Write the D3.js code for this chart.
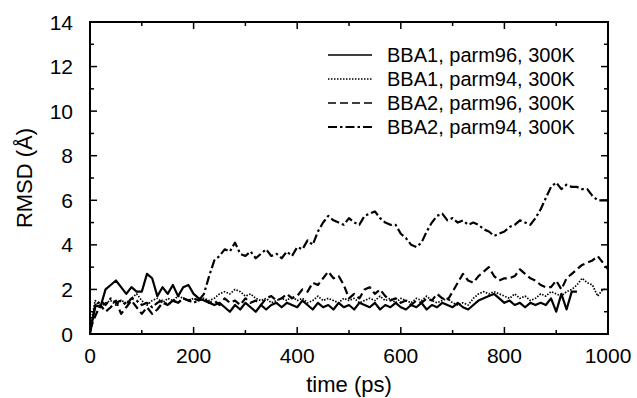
<!DOCTYPE html>
<html><head><meta charset="utf-8">
<script src="https://cdn.jsdelivr.net/npm/d3@7"></script>
<style>body{margin:0;background:#fff}svg{display:block}text{font-family:"Liberation Sans",Arial,sans-serif;fill:#000}</style>
</head><body>
<svg id="c" width="637" height="398"></svg>
<script>
const time = [0,10,20,30,40,50,60,70,80,90,100,110,120,130,140,150,160,170,180,190,200,210,220,230,240,250,260,270,280,290,300,310,320,330,340,350,360,370,380,390,400,410,420,430,440,450,460,470,480,490,500,510,520,530,540,550,560,570,580,590,600,610,620,630,640,650,660,670,680,690,700,710,720,730,740,750,760,770,780,790,800,810,820,830,840,850,860,870,880,890,900,910,920,930,940,950,960,970,980,990,1000];
const bba1p96 = [0.0,1.3,1.2,2.0,2.2,2.4,2.1,1.8,2.1,1.9,1.9,2.7,2.5,1.7,2.1,1.8,2.2,1.7,2.1,2.2,1.8,1.6,1.5,1.4,1.3,1.4,1.2,1.0,1.3,1.1,1.4,1.2,1.0,1.3,1.1,1.3,1.4,1.2,1.4,1.3,1.2,1.5,1.3,1.1,1.4,1.2,1.3,1.1,1.4,1.2,1.3,1.1,1.4,1.3,1.2,1.4,1.1,1.3,1.2,1.4,1.2,1.1,1.3,1.2,1.4,1.1,1.3,1.2,1.4,1.3,1.2,1.4,1.2,1.1,1.3,1.5,1.6,1.7,1.8,1.6,1.4,1.5,1.3,1.4,1.2,1.4,1.3,1.4,1.3,1.6,1.0,1.8,1.1,1.9,1.9];
const bba1p94 = [0.3,1.5,1.2,1.4,1.5,1.3,1.5,1.4,1.6,1.8,1.5,1.3,1.5,1.6,1.4,1.6,1.5,1.7,1.6,1.5,1.6,1.5,1.6,1.5,1.6,1.8,1.9,1.8,2.0,1.9,1.7,1.8,1.6,1.5,1.6,1.4,1.5,1.6,1.5,1.7,1.5,1.6,1.4,1.5,1.7,1.5,1.6,1.5,1.4,1.6,1.5,1.6,1.4,1.5,1.6,1.5,1.7,1.5,1.6,1.4,1.6,1.5,1.4,1.6,1.5,1.7,1.5,1.4,1.5,1.6,1.4,1.3,1.4,1.3,1.6,1.8,1.9,1.8,1.9,1.8,1.7,1.6,1.8,1.6,1.7,1.5,1.6,1.8,1.7,1.9,1.8,1.7,1.9,2.0,2.2,2.5,2.3,2.2,1.7,2.0,2.0];
const bba2p96 = [0.2,0.8,1.3,1.0,1.2,1.5,0.9,1.2,1.5,1.2,0.9,1.2,0.9,1.1,1.4,1.3,1.5,1.4,1.6,1.5,1.6,1.5,1.6,1.4,1.5,1.3,1.6,1.4,1.5,1.3,1.6,1.4,1.5,1.3,1.6,1.7,1.5,1.6,1.8,1.6,1.7,2.0,1.9,2.3,2.2,2.5,2.8,2.5,2.6,2.2,1.6,1.8,1.6,2.0,2.1,1.8,2.0,1.7,1.5,1.6,1.4,1.5,1.3,1.5,1.4,1.6,1.5,1.8,1.6,1.5,1.9,2.3,2.7,2.4,2.3,2.6,2.8,3.0,2.6,2.4,2.5,2.5,2.6,2.9,2.7,2.5,2.4,2.2,2.1,2.1,2.4,2.0,2.5,2.7,2.9,3.1,3.2,3.3,3.5,3.2,2.9];
const bba2p94 = [0.1,1.2,1.5,1.3,1.6,1.4,1.5,1.3,1.6,1.5,1.3,1.4,1.2,1.4,1.5,1.3,1.5,1.4,1.6,1.5,1.4,1.5,1.8,2.6,3.3,3.5,3.8,3.7,4.1,3.6,3.5,3.7,3.4,3.6,3.8,3.5,3.6,3.4,3.7,3.5,3.9,3.8,4.2,4.0,4.6,5.0,5.3,5.1,5.0,4.9,5.2,5.0,4.9,5.3,5.4,5.5,5.2,5.0,4.9,4.9,4.5,4.3,4.0,3.9,4.1,4.6,5.0,5.3,5.4,5.1,5.2,5.0,5.1,4.9,5.0,4.9,4.7,4.6,4.4,4.5,4.6,4.8,4.9,5.1,5.0,4.9,5.2,5.6,6.1,6.6,6.8,6.5,6.7,6.6,6.6,6.5,6.5,6.2,6.0,6.0,6.0];
const seriesNames = ["BBA1, parm96, 300K","BBA1, parm94, 300K","BBA2, parm96, 300K","BBA2, parm94, 300K"];
const xTicks = [0,200,400,600,800,1000];
const yTicks = [0,2,4,6,8,10,12,14];

const svg = d3.select("#c");
const L=90, R=608, T=22, B=334;
const x = d3.scaleLinear().domain([0,1000]).range([L,R]);
const y = d3.scaleLinear().domain([0,14]).range([B,T]);

const styles = [
  {dash:null, w:2.2},
  {dash:"1.5,1.5", w:1.7},
  {dash:"8,4", w:2.2},
  {dash:"9,3,2.5,3", w:2.2}
];
const data = [bba1p96,bba1p94,bba2p96,bba2p94];
const line = d3.line().x(d=>x(d[0])).y(d=>y(d[1]));
data.forEach((vals,i)=>{
  const pts = vals.map((v,j)=>[time[j],v]);
  svg.append("path").attr("d",line(pts)).attr("fill","none").attr("stroke","#000")
    .attr("stroke-width",styles[i].w).attr("stroke-dasharray",styles[i].dash)
    .attr("stroke-linejoin","round");
});

const g = svg.append("g").attr("stroke","#000").attr("stroke-width",1.5);
d3.range(0,1001,100).forEach(t=>{
  const len = (t%200===0)?7:4;
  g.append("line").attr("x1",x(t)).attr("x2",x(t)).attr("y1",B).attr("y2",B-len);
  g.append("line").attr("x1",x(t)).attr("x2",x(t)).attr("y1",T).attr("y2",T+len);
});
d3.range(0,15,1).forEach(v=>{
  const len = (v%2===0)?7:4;
  g.append("line").attr("y1",y(v)).attr("y2",y(v)).attr("x1",L).attr("x2",L+len);
  g.append("line").attr("y1",y(v)).attr("y2",y(v)).attr("x1",R).attr("x2",R-len);
});
svg.append("rect").attr("x",L).attr("y",T).attr("width",R-L).attr("height",B-T)
  .attr("fill","none").attr("stroke","#000").attr("stroke-width",2);

xTicks.forEach(t=>svg.append("text").attr("x",x(t)).attr("y",363).attr("text-anchor","middle")
  .attr("font-size",21).text(t));
yTicks.forEach(v=>svg.append("text").attr("x",73).attr("y",y(v)+7.5).attr("text-anchor","end")
  .attr("font-size",21).text(v));

svg.append("text").attr("x",349).attr("y",392).attr("text-anchor","middle").attr("font-size",22).text("time (ps)");
svg.append("text").attr("transform","translate(32,178) rotate(-90)").attr("text-anchor","middle").attr("font-size",22).text("RMSD (Å)");

seriesNames.forEach((n,i)=>{
  const yy = 55 + i*24;
  svg.append("line").attr("x1",328).attr("x2",372).attr("y1",yy).attr("y2",yy)
    .attr("stroke","#000").attr("stroke-width",i===3?2:1.4).attr("stroke-dasharray",styles[i].dash);
  svg.append("text").attr("x",387).attr("y",yy+7).attr("font-size",20).text(n);
});
</script>
</body></html>
